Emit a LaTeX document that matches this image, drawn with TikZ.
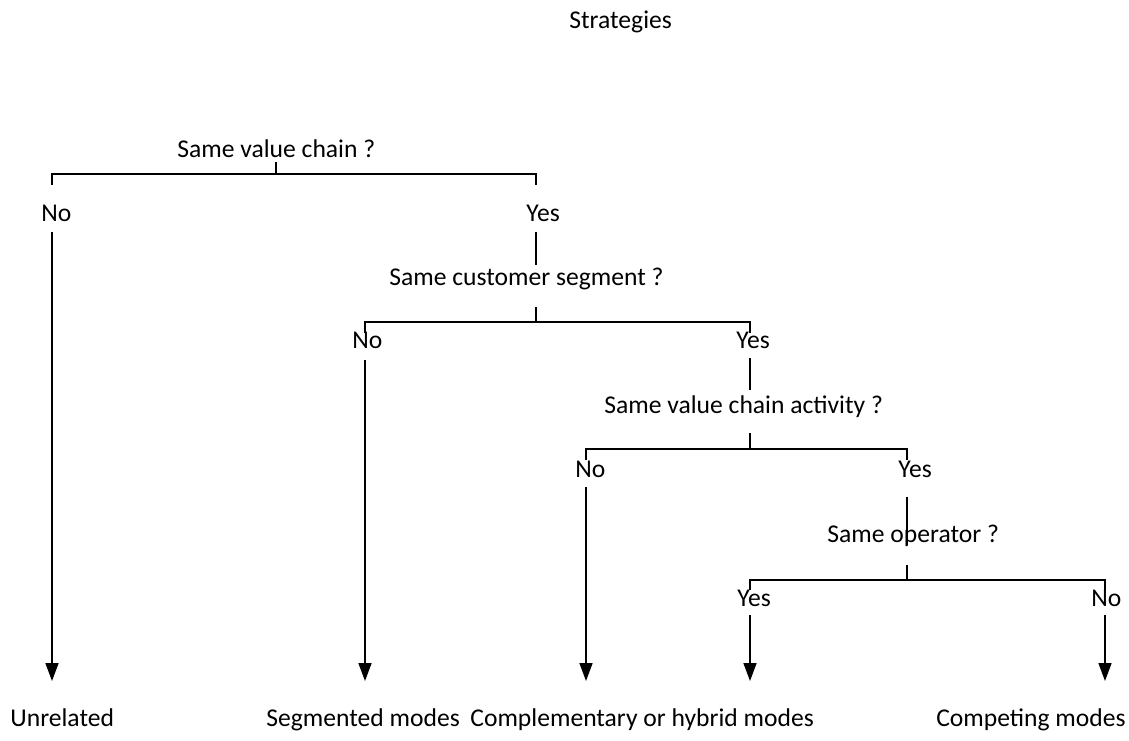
\documentclass[tikz,border=0pt]{standalone}
\usepackage{fontspec}
\setmainfont{Carlito}
\usetikzlibrary{arrows.meta}
\begin{document}
\begin{tikzpicture}[x=0.5pt,y=-0.5pt,
  lbl/.style={anchor=base west,inner sep=0pt,font=\fontsize{12.8pt}{15pt}\selectfont},
  ln/.style={line width=0.8pt},
  arr/.style={line width=0.8pt,-{Triangle[length=9pt,width=6.5pt]}}]
\useasboundingbox (0,0) rectangle (1129,740);
% texts
\node[lbl] (title) at (569,28) {Strategies};
\node[lbl] (q1) at (177,157) {Same value chain ?};
\node[lbl] (n1) at (41,221) {No};
\node[lbl] (y1) at (526,221) {Yes};
\node[lbl] (q2) at (389,285) {Same customer segment ?};
\node[lbl] (n2) at (352,348) {No};
\node[lbl] (y2) at (736,348) {Yes};
\node[lbl] (q3) at (604,413) {Same value chain activity ?};
\node[lbl] (n3) at (575,477) {No};
\node[lbl] (y3) at (898,477) {Yes};
\node[lbl] (q4) at (827,542) {Same operator ?};
\node[lbl] (y4) at (737,606) {Yes};
\node[lbl] (n4) at (1091,606) {No};
\node[lbl] (r1) at (10,726) {Unrelated};
\node[lbl] (r2) at (266,726) {Segmented modes};
\node[lbl] (r3) at (470,726) {Complementary or hybrid modes};
\node[lbl,anchor=base east] (r4) at (1126,726) {Competing modes};
% coordinates
\coordinate (t1a) at (276,162); \coordinate (t1b) at (276,174);
\coordinate (b1l) at (52,174); \coordinate (b1r) at (536,174);
\coordinate (b1le) at (52,185); \coordinate (b1re) at (536,185);
\coordinate (n1s) at (52,232); \coordinate (r1t) at (52,681);
\coordinate (y1s) at (536,232); \coordinate (q2t) at (536,265);
\coordinate (t2a) at (536,307); \coordinate (t2b) at (536,322);
\coordinate (b2l) at (365,322); \coordinate (b2r) at (750,322);
\coordinate (b2le) at (365,333); \coordinate (b2re) at (750,333);
\coordinate (n2s) at (365,360); \coordinate (r2t) at (365,681);
\coordinate (y2s) at (750,358); \coordinate (q3t) at (750,390);
\coordinate (t3a) at (750,433); \coordinate (t3b) at (750,449);
\coordinate (b3l) at (586,449); \coordinate (b3r) at (907,449);
\coordinate (b3le) at (586,460); \coordinate (b3re) at (907,460);
\coordinate (n3s) at (586,487); \coordinate (r3t) at (586,681);
\coordinate (y3s) at (907,497); \coordinate (q4t) at (907,545);
\coordinate (t4a) at (907,565); \coordinate (t4b) at (907,580);
\coordinate (b4l) at (750,580); \coordinate (b4r) at (1105,580);
\coordinate (b4le) at (750,590); \coordinate (b4re) at (1105,590);
\coordinate (y4s) at (750,615); \coordinate (r3bt) at (750,681);
\coordinate (n4s) at (1105,615); \coordinate (r4t) at (1105,681);
% connectors
\draw[ln] (t1a) -- (t1b);
\draw[ln] (b1le) -- (b1l) -- (b1r) -- (b1re);
\draw[arr] (n1s) -- (r1t);
\draw[ln] (y1s) -- (q2t);
\draw[ln] (t2a) -- (t2b);
\draw[ln] (b2le) -- (b2l) -- (b2r) -- (b2re);
\draw[arr] (n2s) -- (r2t);
\draw[ln] (y2s) -- (q3t);
\draw[ln] (t3a) -- (t3b);
\draw[ln] (b3le) -- (b3l) -- (b3r) -- (b3re);
\draw[arr] (n3s) -- (r3t);
\draw[ln] (y3s) -- (q4t);
\draw[ln] (t4a) -- (t4b);
\draw[ln] (b4le) -- (b4l) -- (b4r) -- (b4re);
\draw[arr] (y4s) -- (r3bt);
\draw[arr] (n4s) -- (r4t);
\end{tikzpicture}
\end{document}
